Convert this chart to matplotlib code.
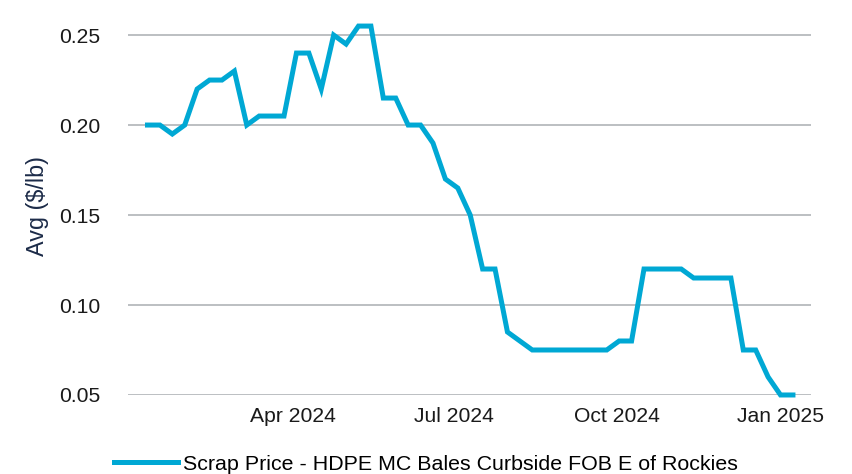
import datetime as dt

import matplotlib
matplotlib.use("Agg")
import matplotlib.pyplot as plt
import matplotlib.dates as mdates

# weekly averages, starting Jan 10 2024
start_date = dt.date(2024, 1, 10)
prices = [0.20, 0.20, 0.195, 0.20, 0.22, 0.225, 0.225, 0.23, 0.20, 0.205,
          0.205, 0.205, 0.24, 0.24, 0.22, 0.25, 0.245, 0.255, 0.255, 0.215,
          0.215, 0.20, 0.20, 0.19, 0.17, 0.165, 0.15, 0.12, 0.12, 0.085,
          0.08, 0.075, 0.075, 0.075, 0.075, 0.075, 0.075, 0.075, 0.08, 0.08,
          0.12, 0.12, 0.12, 0.12, 0.115, 0.115, 0.115, 0.115, 0.075, 0.075,
          0.06, 0.05, 0.05]
dates = [start_date + dt.timedelta(weeks=i) for i in range(len(prices))]

tick_dates = [dt.date(2024, 4, 1), dt.date(2024, 7, 1), dt.date(2024, 10, 1), dt.date(2025, 1, 1)]
tick_labels = ["Apr 2024", "Jul 2024", "Oct 2024", "Jan 2025"]
y_ticks = [0.05, 0.10, 0.15, 0.20, 0.25]
series_name = "Scrap Price - HDPE MC Bales Curbside FOB E of Rockies"

plt.rcParams['font.family'] = ['Liberation Sans', 'DejaVu Sans']

fig = plt.figure(figsize=(8.52, 4.74), dpi=100)
ax = fig.add_axes([0.1502, 0.1667, 0.8013, 0.7973])

line, = ax.plot(dates, prices, color='#00A8D4', lw=3.6, solid_joinstyle='miter',
                clip_on=False, zorder=3)

ax.set_xlim(dt.date(2023, 12, 30), dt.date(2025, 1, 18))
ax.set_ylim(0.05, 0.26)
ax.set_yticks(y_ticks)
ax.set_yticklabels(["%.2f" % v for v in y_ticks])
ax.set_xticks([mdates.date2num(d) for d in tick_dates])
ax.set_xticklabels(tick_labels)

ax.grid(axis='y', color='#B6BABD', lw=1.3)
ax.set_axisbelow(True)
for s in ax.spines.values():
	s.set_visible(False)
ax.tick_params(length=0, labelsize=15.2, colors='#1A1A1A')
ax.tick_params(axis='y', pad=20)
ax.tick_params(axis='x', pad=9)

ax.set_ylabel("Avg ($/lb)", fontsize=16.8, color='#1C2B48', labelpad=7)

fig.legend([line], [series_name], loc='lower center', bbox_to_anchor=(0.5, -0.04),
           frameon=False, fontsize=15.4, handlelength=3.0, handletextpad=0.25)

fig.savefig("out.png", dpi=100)
